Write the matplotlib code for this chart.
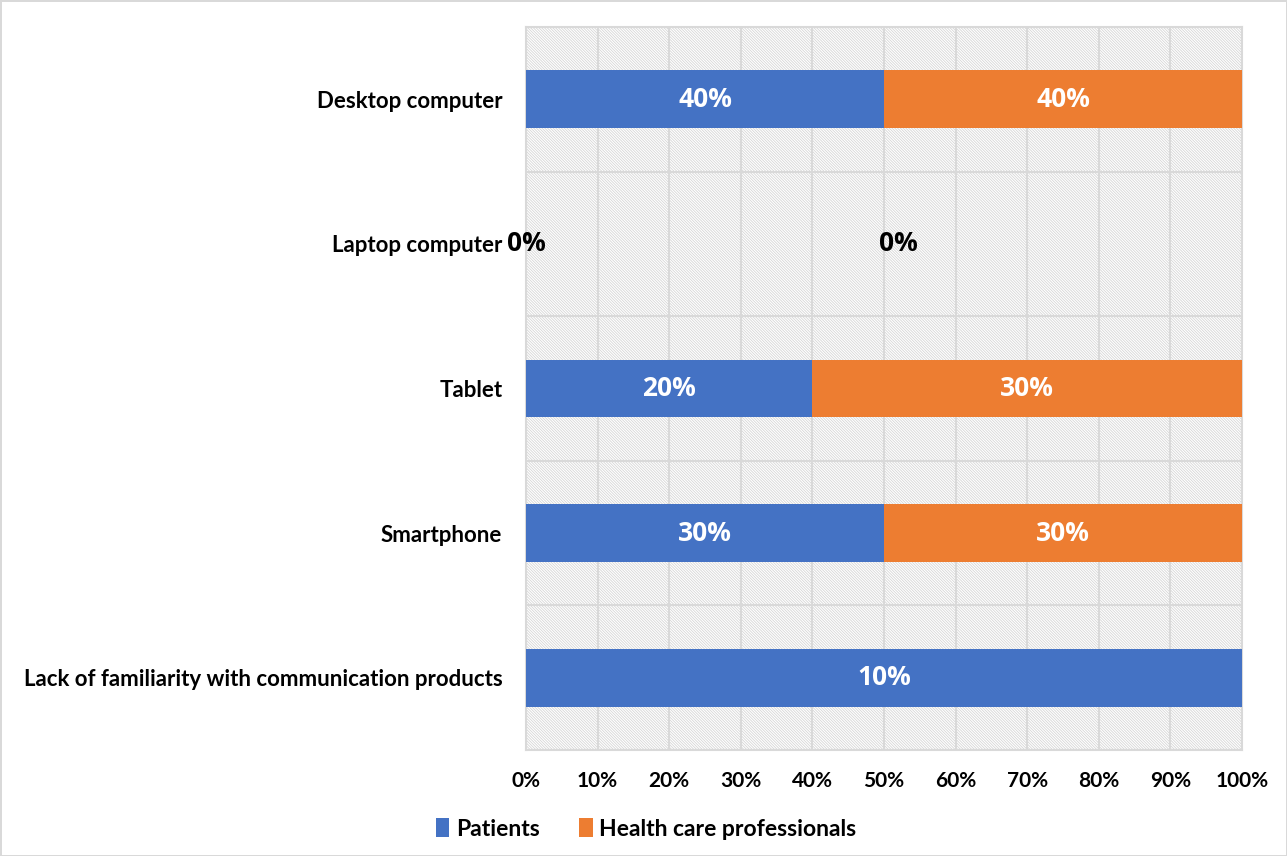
import matplotlib.pyplot as plt
import numpy as np
from matplotlib.patches import Rectangle

categories = ["Lack of familiarity with communication products", "Smartphone",
              "Tablet", "Laptop computer", "Desktop computer"]
patients = [10, 30, 20, 0, 40]
professionals = [np.nan, 30, 30, 0, 40]
series_names = ["Patients", "Health care professionals"]
colors = ["#4472C4", "#ED7D31"]
xticks = np.arange(0, 101, 10)


def main():
    plt.rcParams["hatch.linewidth"] = 0.6
    fig = plt.figure(figsize=(12.87, 8.56), dpi=100)
    fig.patch.set_edgecolor("#d9d9d9")
    fig.patch.set_linewidth(2)
    ax = fig.add_axes([0.4087, 0.1238, 0.5563, 0.8447])

    # hatched plot area
    bg = Rectangle((0, 0), 1, 1, transform=ax.transAxes, facecolor="white",
                   edgecolor="#d6d6d6", hatch="\\" * 12, lw=0, zorder=0)
    ax.add_patch(bg)

    p = np.array(patients, float)
    h = np.nan_to_num(np.array(professionals, float))
    total = p + h
    safe = np.where(total == 0, 1, total)
    ps = p / safe * 100
    hs = h / safe * 100
    y = np.arange(len(categories))

    ax.barh(y, ps, height=0.4, color=colors[0], label=series_names[0], zorder=3)
    ax.barh(y, hs, left=ps, height=0.4, color=colors[1], label=series_names[1], zorder=3)

    for i in range(len(categories)):
        raw = [patients[i], professionals[i]]
        shares = [ps[i], hs[i]]
        lefts = [0, ps[i]]
        for j in range(2):
            if np.isnan(raw[j]):
                continue
            if total[i] == 0:
                xpos = 0 if j == 0 else 52
                col = "black"
            else:
                xpos = lefts[j] + shares[j] / 2
                col = "white"
            ax.text(xpos, y[i], f"{raw[j]:.0f}%", ha="center", va="center",
                    color=col, fontsize=19, fontweight="bold",
                    family="Open Sans", zorder=5)

    ax.set_xlim(0, 100)
    ax.set_ylim(-0.5, len(categories) - 0.5)
    ax.set_xticks(xticks)
    ax.set_xticklabels([f"{t}%" for t in xticks])
    ax.set_yticks(y)
    ax.set_yticklabels(categories)
    ax.set_yticks(np.arange(-0.5, len(categories), 1), minor=True)
    ax.tick_params(which="both", length=0)
    ax.tick_params(axis="x", pad=15)
    ax.tick_params(axis="y", pad=17)
    for lab in ax.get_xticklabels():
        lab.set_family("Lato")
        lab.set_fontweight("bold")
        lab.set_fontsize(15)
    for lab in ax.get_yticklabels():
        lab.set_family("Lato")
        lab.set_fontweight("bold")
        lab.set_fontsize(16)
    ax.grid(axis="x", color="#d9d9d9", lw=1.5, zorder=1)
    ax.grid(axis="y", which="minor", color="#d9d9d9", lw=1.5, zorder=1)
    ax.set_axisbelow(True)
    for s in ax.spines.values():
        s.set_color("#d9d9d9")
        s.set_linewidth(1.5)

    fig.legend(loc="center", bbox_to_anchor=(0.502, 0.0315), ncol=2, frameon=False,
               handlelength=0.6, handleheight=0.9, handletextpad=0.3, columnspacing=1.7,
               prop={"family": "Lato", "weight": "bold", "size": 16.5})
    fig.savefig("out.png", dpi=100)


if __name__ == "__main__":
    main()
